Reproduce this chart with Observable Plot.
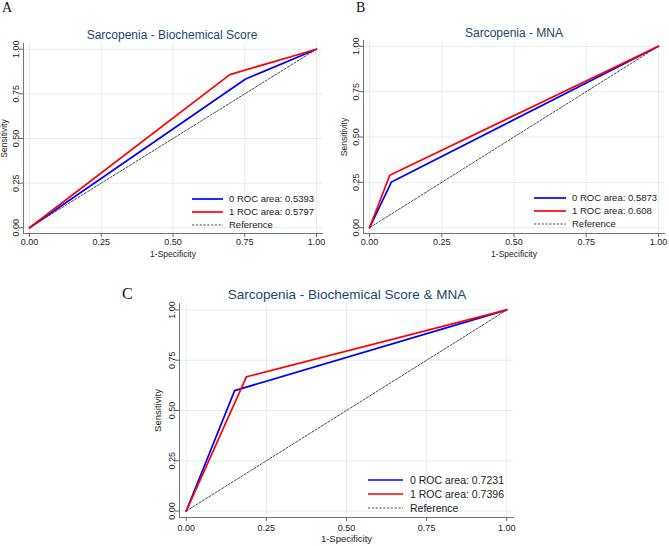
<!DOCTYPE html>
<html><head><meta charset="utf-8">
<script src="https://cdn.jsdelivr.net/npm/d3@7"></script>
<script src="https://cdn.jsdelivr.net/npm/@observablehq/plot@0.6"></script>
<style>
body{margin:0;background:#fff;font-family:"Liberation Sans",Arial,sans-serif;}
#root{position:relative;width:669px;height:546px;overflow:hidden;background:#fff;}
.abs{position:absolute;}
.letter{font-family:"Liberation Serif","Times New Roman",serif;color:#111;line-height:1;}
.title{color:#1a476f;white-space:nowrap;transform:translate(-50%,-50%);line-height:1;}
svg{overflow:visible;}
</style></head><body><div id="root"></div>
<script>
// ---------- data ----------
const panelLetters = ["A", "B", "C"];
const panelTitles = ["Sarcopenia - Biochemical Score", "Sarcopenia - MNA", "Sarcopenia - Biochemical Score & MNA"];
const seriesNames = ["0", "1"];
const rocAreas = [["0.5393", "0.5797"], ["0.5873", "0.608"], ["0.7231", "0.7396"]];
// ROC curve points: x = 1-specificity, y = sensitivity
const fprA0 = [0, 0.753, 1], tprA0 = [0, 0.833, 1];
const fprA1 = [0, 0.698, 1], tprA1 = [0, 0.858, 1];
const fprB0 = [0, 0.076, 1], tprB0 = [0, 0.252, 1];
const fprB1 = [0, 0.070, 1], tprB1 = [0, 0.289, 1];
const fprC0 = [0, 0.151, 1], tprC0 = [0, 0.599, 1];
const fprC1 = [0, 0.188, 1], tprC1 = [0, 0.668, 1];
const refLine = [0, 1];
const axisTicks = [0, 0.25, 0.5, 0.75, 1];
const xLabel = "1-Specificity", yLabel = "Sensitivity", refName = "Reference";

// ---------- layout ----------
const seriesColors = ["#0000ff", "#ff0000"];
const panels = [
  {left: 0, top: 0, w: 334, h: 262, ml: 23, mr: 12, mt: 43, mb: 29, xlo: 23, ylo: 23, tp: 1, tickFs: 9, labFs: 8.5,
   letter: {x: 2, y: 1, fs: 14}, title: {x: 172, y: 35, fs: 12},
   legend: {x1: 192, x2: 223, tx: 229, ys: [199, 212, 225], fs: 9.5},
   curves: [[fprA0, tprA0], [fprA1, tprA1]]},
  {left: 334, top: 0, w: 335, h: 262, ml: 29, mr: 5, mt: 40, mb: 29, xlo: 23, ylo: 23, tp: 1, tickFs: 9, labFs: 8.5,
   letter: {x: 356, y: 1, fs: 14}, title: {x: 514, y: 33, fs: 12},
   legend: {x1: 534, x2: 566, tx: 572, ys: [198, 211, 224], fs: 9.5},
   curves: [[fprB0, tprB0], [fprB1, tprB1]]},
  {left: 100, top: 270, w: 470, h: 276, ml: 79, mr: 57, mt: 33, mb: 29, xlo: 24, ylo: 25, tp: 3, tickFs: 9, labFs: 9.5,
   letter: {x: 122, y: 286, fs: 16}, title: {x: 347, y: 295, fs: 13.5},
   legend: {x1: 368, x2: 403, tx: 410, ys: [480, 494, 508], fs: 10.5},
   curves: [[fprC0, tprC0], [fprC1, tprC1]]}
];

const root = document.getElementById("root");
const fmt = d3.format(".2f");

panels.forEach((p, i) => {
  const rows = [];
  p.curves.forEach(([fpr, tpr], k) => fpr.forEach((x, j) => rows.push({series: seriesNames[k], x, y: tpr[j]})));
  const ref = refLine.map(v => ({x: v, y: v}));
  const chart = Plot.plot({
    width: p.w, height: p.h,
    marginLeft: p.ml, marginRight: p.mr, marginTop: p.mt, marginBottom: p.mb,
    style: {fontFamily: "Liberation Sans, Arial, sans-serif", fontSize: p.tickFs + "px", color: "#222", background: "transparent", overflow: "visible"},
    x: {domain: [-0.021, 1.021]},
    y: {domain: [-0.032, 1.032]},
    color: {domain: seriesNames, range: seriesColors},
    marks: [
      Plot.gridX(axisTicks, {stroke: "#e3edf0", strokeOpacity: 1}),
      Plot.gridY(axisTicks, {stroke: "#e3edf0", strokeOpacity: 1}),
      Plot.frame({anchor: "bottom", stroke: "#777"}),
      Plot.frame({anchor: "left", stroke: "#777"}),
      Plot.axisX(axisTicks, {tickFormat: fmt, tickSize: 4, tickPadding: p.tp, stroke: "#666", label: null}),
      Plot.axisY(axisTicks, {tickFormat: fmt, tickSize: 4, tickPadding: 1, tickRotate: -90, stroke: "#666", label: null}),
      Plot.axisX({ticks: [], label: xLabel, labelAnchor: "center", labelArrow: "none", labelOffset: p.xlo, fontSize: p.labFs}),
      Plot.axisY({ticks: [], label: yLabel, labelAnchor: "center", labelArrow: "none", labelOffset: p.ylo, fontSize: p.labFs}),
      Plot.line(ref, {x: "x", y: "y", stroke: "#333", strokeWidth: 0.9, strokeDasharray: "2.2,1.6"}),
      Plot.line(rows, {x: "x", y: "y", stroke: "series", z: "series", strokeWidth: 1.7})
    ]
  });
  chart.style.position = "absolute";
  chart.style.left = p.left + "px";
  chart.style.top = p.top + "px";
  root.appendChild(chart);

  const letter = document.createElement("div");
  letter.className = "abs letter";
  letter.style.left = p.letter.x + "px"; letter.style.top = p.letter.y + "px";
  letter.style.fontSize = p.letter.fs + "px";
  letter.textContent = panelLetters[i];
  root.appendChild(letter);

  const title = document.createElement("div");
  title.className = "abs title";
  title.style.left = p.title.x + "px"; title.style.top = p.title.y + "px";
  title.style.fontSize = p.title.fs + "px";
  title.textContent = panelTitles[i];
  root.appendChild(title);

  // legend
  const labels = [seriesNames[0] + " ROC area: " + rocAreas[i][0], seriesNames[1] + " ROC area: " + rocAreas[i][1], refName];
  const ns = "http://www.w3.org/2000/svg";
  const lsvg = document.createElementNS(ns, "svg");
  lsvg.setAttribute("width", 669); lsvg.setAttribute("height", 546);
  lsvg.style.position = "absolute"; lsvg.style.left = "0"; lsvg.style.top = "0";
  labels.forEach((t, r) => {
    const ln = document.createElementNS(ns, "line");
    ln.setAttribute("x1", p.legend.x1); ln.setAttribute("x2", p.legend.x2);
    ln.setAttribute("y1", p.legend.ys[r]); ln.setAttribute("y2", p.legend.ys[r]);
    if (r < 2) { ln.setAttribute("stroke", seriesColors[r]); ln.setAttribute("stroke-width", 1.7); }
    else { ln.setAttribute("stroke", "#333"); ln.setAttribute("stroke-width", 0.9); ln.setAttribute("stroke-dasharray", "2.2,1.6"); }
    lsvg.appendChild(ln);
    const tx = document.createElementNS(ns, "text");
    tx.setAttribute("x", p.legend.tx); tx.setAttribute("y", p.legend.ys[r]);
    tx.setAttribute("dy", "0.36em");
    tx.setAttribute("font-size", p.legend.fs);
    tx.setAttribute("font-family", "Liberation Sans, Arial, sans-serif");
    tx.setAttribute("fill", "#222");
    tx.textContent = t;
    lsvg.appendChild(tx);
  });
  root.appendChild(lsvg);
});
</script></body></html>
